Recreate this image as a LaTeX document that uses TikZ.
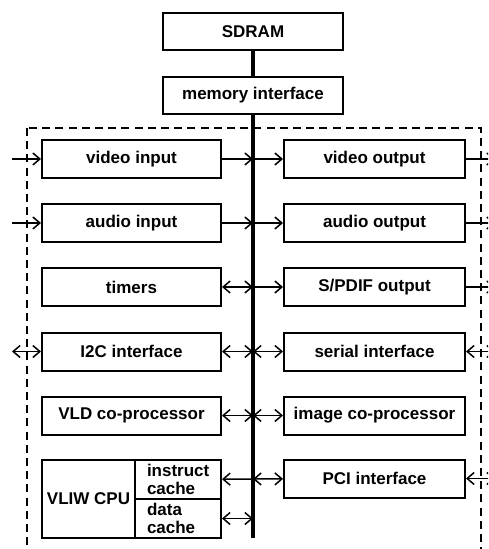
\documentclass[tikz,border=0pt]{standalone}
\usepackage{fontspec}
\setmainfont{Liberation Sans}
\usetikzlibrary{arrows.meta}
\begin{document}
\begin{tikzpicture}[x=0.5pt,y=-0.5pt,font=\fontsize{8.5}{9}\selectfont\bfseries]
			\clip[use as bounding box] (0,0) rectangle (488,549);
			% dashed chip outline
			\draw[line width=1pt, dash pattern=on 4pt off 2.6pt] (27,128) rectangle (481,570);
			\begin{scope}[every node/.style={draw, line width=1pt, minimum height=18.5pt, minimum width=90pt, inner sep=0pt}]
				\node (sdram) at (253,31.5) {SDRAM};
				\node (mem)   at (253,95.5) {memory interface};
			\end{scope}
			\begin{scope}[every node/.style={draw, line width=1pt, minimum height=19pt, minimum width=89.5pt, inner sep=0pt}]
				\node (vin)    at (131.5,159)   {video input};
				\node (ain)    at (131.5,223)   {audio input};
				\node (timers) at (131.5,287)   {timers};
				\node (i2c)    at (131.5,351.5) {I2C interface};
				\node (vld)    at (131.5,415.5) {VLD co-processor};
			\end{scope}
			\begin{scope}[every node/.style={draw, line width=1pt, minimum height=19pt, minimum width=90.5pt, inner sep=0pt}]
				\node (vout)   at (374.5,159)   {video output};
				\node (aout)   at (374.5,223)   {audio output};
				\node (spdif)  at (374.5,287)   {S/PDIF output};
				\node (serial) at (374.5,351.5) {serial interface};
				\node (imgp)   at (374.5,415.5) {image co-processor};
				\node (pci)    at (374.5,478.5) {PCI interface};
			\end{scope}
			\begin{scope}[every node/.style={draw, line width=1pt, inner sep=0pt}]
				\node[minimum width=46.5pt, minimum height=39pt] (cpu) at (88.5,499) {VLIW CPU};
				\node[minimum width=43pt, minimum height=19.5pt, text width=31pt, align=left] (icache) at (178,479.5) {instruct\\cache};
				\node[minimum width=43pt, minimum height=19.5pt, text width=31pt, align=left] (dcache) at (178,518.5) {data\\cache};
			\end{scope}
			% bus taps and outside ends
			\coordinate (b1) at (253,159);
			\coordinate (b2) at (253,223);
			\coordinate (b3) at (253,287);
			\coordinate (b4) at (253,351.5);
			\coordinate (b5) at (253,415.5);
			\coordinate (b6) at (253,479);
			\coordinate (b7) at (253,518.5);
			\coordinate (bot) at (253,538);
			\coordinate (l1) at (12,159);
			\coordinate (l2) at (12,223);
			\coordinate (l4) at (12,351.5);
			\coordinate (r1) at (495,159);
			\coordinate (r2) at (495,223);
			\coordinate (r3) at (495,287);
			\coordinate (r4) at (495,351.5);
			\coordinate (r6) at (495,478.5);
			\draw[line width=2.4pt] (sdram) -- (mem);
			\draw[line width=2.4pt] (mem) -- (bot);
			\begin{scope}[every edge/.style={draw=black, line width=0.75pt, >={Straight Barb[length=3.5pt,width=6pt]}}]
				\path (vin) edge[->] (b1);
				\path (ain) edge[->] (b2);
				\path (timers) edge[<->] (b3);
				\path (i2c) edge[<->] (b4);
				\path (vld) edge[<->] (b5);
				\path (b6) edge[->] (icache);
				\path (dcache) edge[<->] (b7);
				\path (b1) edge[->] (vout);
				\path (b2) edge[->] (aout);
				\path (b3) edge[->] (spdif);
				\path (b4) edge[<->] (serial);
				\path (b5) edge[<->] (imgp);
				\path (b6) edge[<->] (pci);
				\path (l1) edge[->] (vin);
				\path (l2) edge[->] (ain);
				\path (l4) edge[<->] (i2c);
				\path (vout) edge[->] (r1);
				\path (aout) edge[->] (r2);
				\path (spdif) edge[->] (r3);
				\path (r4) edge[<->] (serial);
				\path (r6) edge[<->] (pci);
			\end{scope}
		\end{tikzpicture}
\end{document}
